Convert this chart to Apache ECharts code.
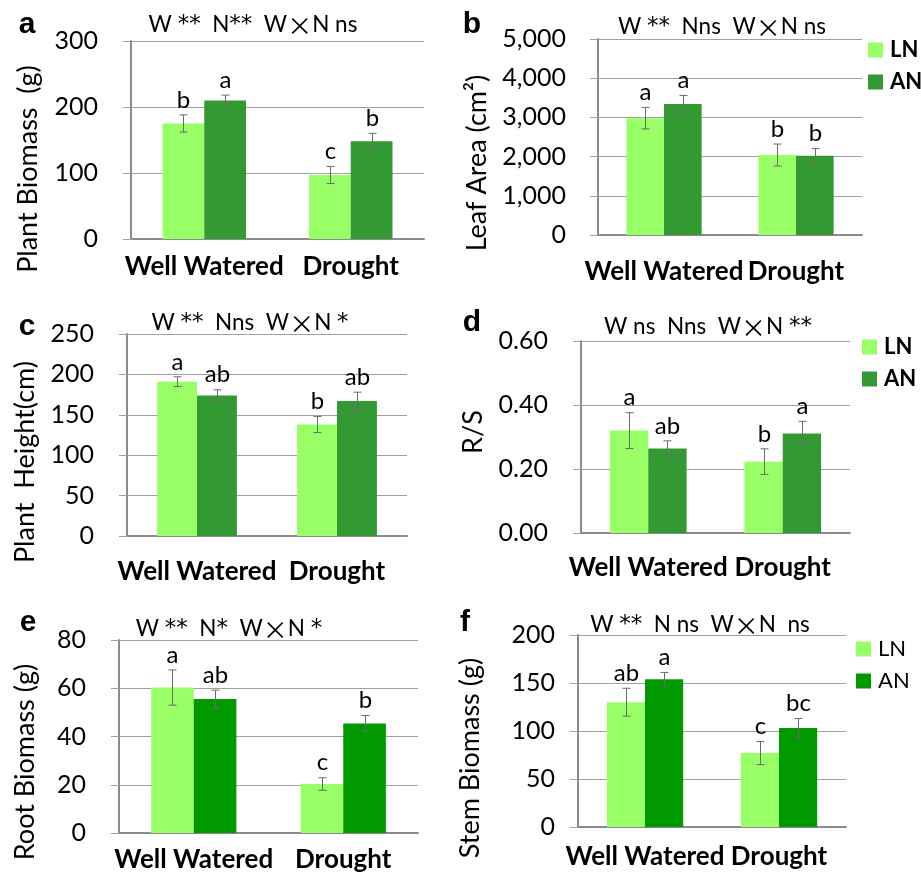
<!DOCTYPE html>
<html>
<head>
<meta charset="utf-8">
<script src="https://cdn.jsdelivr.net/npm/echarts@6/dist/echarts.min.js"></script>
<style>
  html, body { margin: 0; padding: 0; background: #fff; }
  #chart { width: 921px; height: 874px; }
</style>
</head>
<body>
<div id="chart"></div>
<script>
const categories = ['Well Watered', 'Drought'];

// a - plant biomass (g)
const biomassLN = [175, 97];
const biomassAN = [210, 148];
const biomassLNErr = [13, 13];
const biomassANErr = [8, 12];
const biomassLNSig = ['b', 'c'];
const biomassANSig = ['a', 'b'];

// b - leaf area (cm2)
const leafLN = [2980, 2040];
const leafAN = [3340, 2020];
const leafLNErr = [275, 280];
const leafANErr = [220, 185];
const leafLNSig = ['a', 'b'];
const leafANSig = ['a', 'b'];

// c - plant height (cm)
const heightLN = [191, 138];
const heightAN = [174, 167];
const heightLNErr = [6, 10];
const heightANErr = [7, 11];
const heightLNSig = ['a', 'b'];
const heightANSig = ['ab', 'ab'];

// d - root/shoot ratio
const rsLN = [0.32, 0.223];
const rsAN = [0.264, 0.311];
const rsLNErr = [0.056, 0.04];
const rsANErr = [0.024, 0.038];
const rsLNSig = ['a', 'b'];
const rsANSig = ['ab', 'a'];

// e - root biomass (g)
const rootLN = [60.3, 20.3];
const rootAN = [55.5, 45.4];
const rootLNErr = [7.3, 2.6];
const rootANErr = [3.7, 3.3];
const rootLNSig = ['a', 'c'];
const rootANSig = ['ab', 'b'];

// f - stem biomass (g)
const stemLN = [130, 77];
const stemAN = [154, 103];
const stemLNErr = [14.5, 12];
const stemANErr = [7, 10];
const stemLNSig = ['ab', 'c'];
const stemANSig = ['a', 'bc'];

// ANOVA notes above each panel
const anovaNotes = [
  'W **  N**  W×N ns',
  'W **  Nns  W×N ns',
  'W **  Nns  W×N *',
  'W ns  Nns  W×N **',
  'W **  N*  W×N *',
  'W **  N ns  W×N  ns'
];

const LN_COLOR = '#99ff66';
const AN_DARK = '#339933';
const AN_BRIGHT = '#009900';
const GAP = 0.43;
const FONT = 'Lato, "Liberation Sans", sans-serif';

const panels = [
  { tag: 'a', tagXY: [27, 25], noteXY: [253, 25], grid: { left: 131, right: 497, top: 41, bottom: 635 },
    max: 300, interval: 100, fmt: v => v, labelMargin: 33, xMargin: 15,
    name: 'Plant Biomass  (g)', nameXY: [28, 169],
    ln: biomassLN, an: biomassAN, lnErr: biomassLNErr, anErr: biomassANErr, lnSig: biomassLNSig, anSig: biomassANSig, anColor: AN_DARK },
  { tag: 'b', tagXY: [472, 25], noteXY: [722, 27], grid: { left: 598, right: 59, top: 39, bottom: 639 },
    max: 5000, interval: 1000, fmt: v => v.toLocaleString('en-US'), labelMargin: 32, xMargin: 24,
    name: 'Leaf Area (cm²)', nameXY: [477, 163],
    ln: leafLN, an: leafAN, lnErr: leafLNErr, anErr: leafANErr, lnSig: leafLNSig, anSig: leafANSig, anColor: AN_DARK,
    legend: { left: 863, top: 34, bold: true } },
  { tag: 'c', tagXY: [27, 327], noteXY: [250, 323], grid: { left: 127, right: 514, top: 334, bottom: 338 },
    max: 250, interval: 50, fmt: v => v, labelMargin: 33, xMargin: 23,
    name: 'Plant  Height(cm)', nameXY: [25, 462],
    ln: heightLN, an: heightAN, lnErr: heightLNErr, anErr: heightANErr, lnSig: heightLNSig, anSig: heightANSig, anColor: AN_DARK },
  { tag: 'd', tagXY: [472, 323], noteXY: [708, 327], grid: { left: 581, right: 71, top: 341, bottom: 341 },
    max: 0.6, interval: 0.2, fmt: v => v.toFixed(2), labelMargin: 33, xMargin: 22,
    name: 'R/S', nameXY: [473, 432],
    ln: rsLN, an: rsAN, lnErr: rsLNErr, anErr: rsANErr, lnSig: rsLNSig, anSig: rsANSig, anColor: AN_DARK,
    legend: { left: 857, top: 331, bold: true } },
  { tag: 'e', tagXY: [28, 623], noteXY: [229, 629], grid: { left: 119, right: 503, top: 640, bottom: 41 },
    max: 80, interval: 20, fmt: v => v, labelMargin: 33, xMargin: 14,
    name: 'Root Biomass (g)', nameXY: [25, 762],
    ln: rootLN, an: rootAN, lnErr: rootLNErr, anErr: rootANErr, lnSig: rootLNSig, anSig: rootANSig, anColor: AN_BRIGHT },
  { tag: 'f', tagXY: [465, 623], noteXY: [700, 625], grid: { left: 578, right: 75, top: 635, bottom: 47 },
    max: 200, interval: 50, fmt: v => v, labelMargin: 23, xMargin: 17,
    name: 'Stem Biomass (g)', nameXY: [470, 758],
    ln: stemLN, an: stemAN, lnErr: stemLNErr, anErr: stemANErr, lnSig: stemLNSig, anSig: stemANSig, anColor: AN_BRIGHT,
    legend: { left: 851, top: 633, bold: false } }
];

// wrap the × and the asterisks so they can use larger glyphs
function richNote(s) {
  return s.replace(/×/g, '{x|×}').replace(/\*+/g, m => '{s|' + m + '}');
}

// error bar + significance letter, side = -1 for LN, +1 for AN
function errorBars(letters, side) {
  return function (params, api) {
    const i = api.value(0), v = api.value(1), e = api.value(2);
    const catW = api.size([1, 0])[0];
    const bw = catW * (1 - GAP) / 2;
    const x = Math.round(api.coord([i, v])[0] + side * bw / 2) + 0.5;
    const yHi = api.coord([i, v + e])[1];
    const yLo = api.coord([i, v - e])[1];
    const cap = 4;
    const ls = { stroke: '#6b6b6b', lineWidth: 1 };
    return {
      type: 'group',
      children: [
        { type: 'line', shape: { x1: x, y1: yHi, x2: x, y2: yLo }, style: ls },
        { type: 'line', shape: { x1: x - cap, y1: yHi, x2: x + cap, y2: yHi }, style: ls },
        { type: 'line', shape: { x1: x - cap, y1: yLo, x2: x + cap, y2: yLo }, style: ls },
        { type: 'text', x: x, y: yHi - 3,
          style: { text: letters[params.dataIndex], align: 'center', verticalAlign: 'bottom',
                   fontSize: 24, fontFamily: FONT, fill: '#000' } }
      ]
    };
  };
}

const series = [];
const graphics = [];
const legends = [];

panels.forEach((p, k) => {
  series.push(
    { name: 'LN', type: 'bar', xAxisIndex: k, yAxisIndex: k, data: p.ln,
      barGap: '0%', barCategoryGap: (GAP * 100) + '%', itemStyle: { color: LN_COLOR } },
    { name: 'AN', type: 'bar', xAxisIndex: k, yAxisIndex: k, data: p.an,
      barGap: '0%', barCategoryGap: (GAP * 100) + '%', itemStyle: { color: p.anColor } },
    { type: 'custom', xAxisIndex: k, yAxisIndex: k, z: 5,
      data: p.ln.map((v, i) => [i, v, p.lnErr[i]]), renderItem: errorBars(p.lnSig, -1) },
    { type: 'custom', xAxisIndex: k, yAxisIndex: k, z: 5,
      data: p.an.map((v, i) => [i, v, p.anErr[i]]), renderItem: errorBars(p.anSig, 1) }
  );

  graphics.push(
    { type: 'text', x: p.tagXY[0], y: p.tagXY[1],
      style: { text: p.tag, align: 'center', verticalAlign: 'middle',
               font: 'bold 30px "Liberation Sans", Arial, sans-serif', fill: '#000' } },
    { type: 'text', x: p.noteXY[0], y: p.noteXY[1],
      style: { text: richNote(anovaNotes[k]), align: 'center', verticalAlign: 'middle',
               fontSize: 22.5, fontFamily: FONT, fill: '#000',
               rich: {
                 x: { fontSize: 25, fontFamily: '"Noto Sans CJK SC"', fill: '#000' },
                 s: { fontSize: 23, fontFamily: '"DejaVu Sans"', fill: '#000' }
               } } },
    { type: 'text', x: p.nameXY[0], y: p.nameXY[1], rotation: Math.PI / 2,
      style: { text: p.name, align: 'center', verticalAlign: 'middle',
               fontSize: 27, fontFamily: FONT, fill: '#000' } }
  );

  if (p.legend) {
    legends.push({
      left: p.legend.left, top: p.legend.top, orient: 'vertical',
      icon: 'rect', itemWidth: 15, itemHeight: 15, itemGap: 10,
      selectedMode: false,
      textStyle: { fontSize: 22, lineHeight: 22, fontFamily: FONT,
                   fontWeight: p.legend.bold ? 'bold' : 'normal', color: '#000', padding: [0, 0, 0, 2] },
      data: [
        { name: 'LN', itemStyle: { color: LN_COLOR } },
        { name: 'AN', itemStyle: { color: p.anColor } }
      ]
    });
  }
});

const option = {
  animation: false,
  backgroundColor: '#fff',
  textStyle: { fontFamily: FONT },
  legend: legends,
  grid: panels.map(p => p.grid),
  xAxis: panels.map((p, k) => ({
    type: 'category', gridIndex: k, data: categories,
    axisLine: { lineStyle: { color: '#8c8c8c', width: 2 } },
    axisTick: { length: 8, lineStyle: { color: '#8c8c8c' } },
    axisLabel: { interval: 0, margin: p.xMargin, fontSize: 26, fontWeight: 'bold', color: '#000', fontFamily: FONT }
  })),
  yAxis: panels.map((p, k) => ({
    type: 'value', gridIndex: k, min: 0, max: p.max, interval: p.interval,
    axisLine: { show: true, lineStyle: { color: '#8c8c8c', width: 2 } },
    axisTick: { show: true, length: 8, lineStyle: { color: '#a0a0a0' } },
    splitLine: { lineStyle: { color: '#a0a0a0', width: 1 } },
    axisLabel: { margin: p.labelMargin, fontSize: 25, color: '#000', fontFamily: FONT, formatter: p.fmt }
  })),
  graphic: graphics,
  series: series
};

const chart = echarts.init(document.getElementById('chart'));
chart.setOption(option);
</script>
</body>
</html>
